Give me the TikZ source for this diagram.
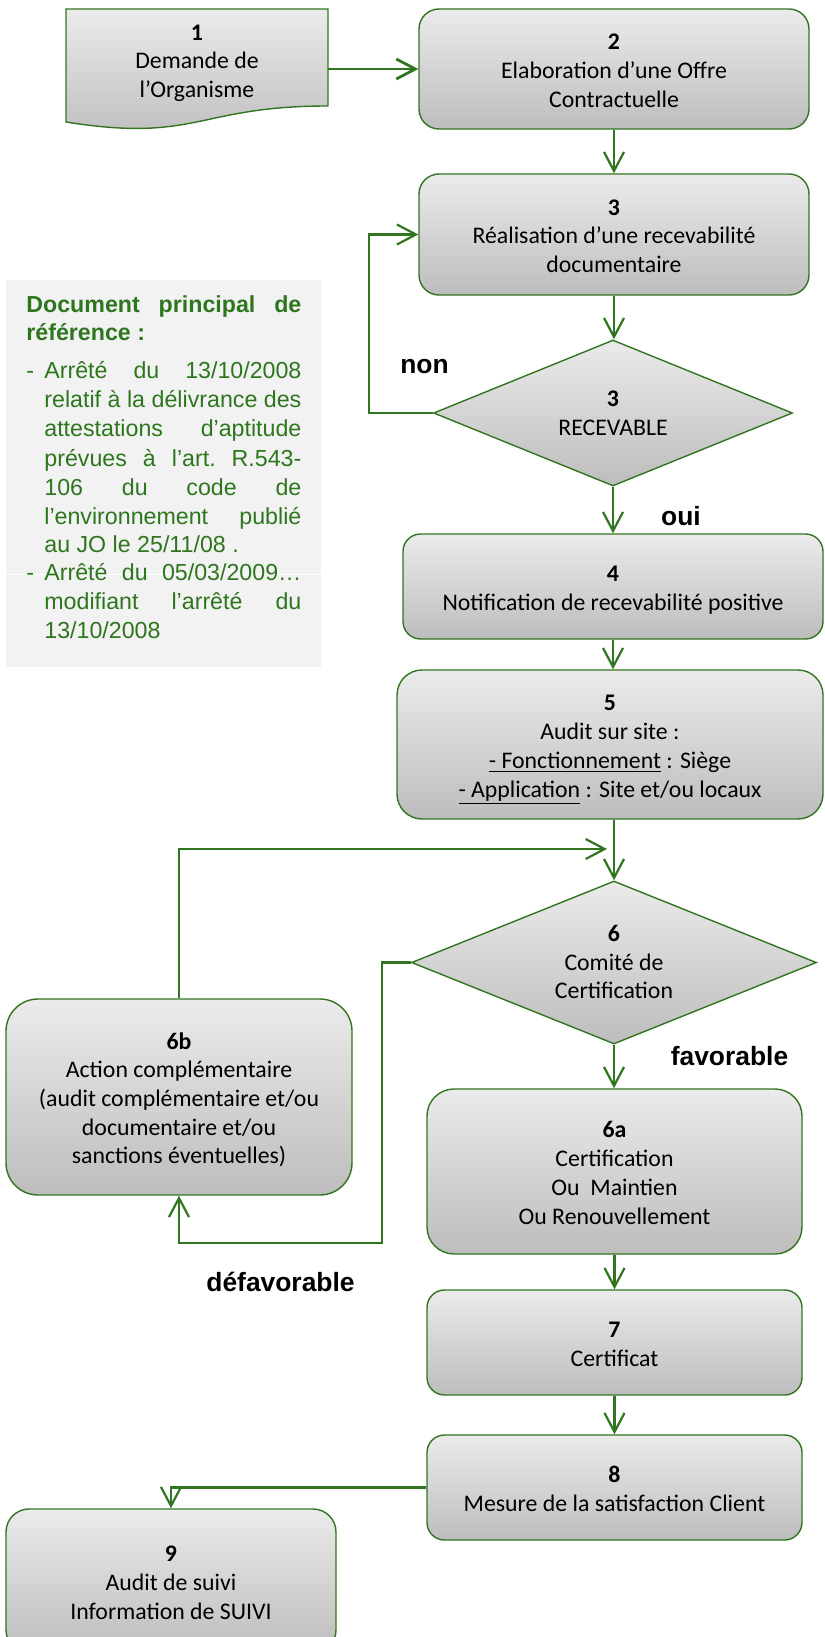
\documentclass[tikz,border=0pt]{standalone}
\usepackage{fontspec}
\setmainfont{Carlito}
\newfontfamily\labfont{Liberation Sans}
\newfontfamily\reffont{Liberation Sans}
\usetikzlibrary{arrows.meta,shapes.geometric,calc}
\definecolor{lg}{RGB}{50,117,32}
\definecolor{rg}{RGB}{46,118,30}
\definecolor{gtop}{RGB}{235,235,235}
\definecolor{gbot}{RGB}{189,189,189}
\definecolor{refbg}{RGB}{242,242,242}
\newcommand\bx[2]{\rule{0pt}{13.8pt}\textbf{#1}\\#2\strut}
\newcommand\dx[2]{\rule{0pt}{12pt}\textbf{#1}\\#2\strut}
\tikzset{
  boxtext/.style={align=center, inner sep=0pt, font=\fontsize{11.9}{14.35}\selectfont},
  box/.style={boxtext, draw=lg, line width=0.7pt, top color=gtop, bottom color=gbot},
  dia/.style={diamond, aspect=2.46, draw=lg, line width=0.7pt, top color=gtop, bottom color=gbot, align=center, inner sep=0pt, font=\fontsize{11.9}{14.35}\selectfont},
  conn/.style={draw=lg, line width=1.1pt, -{Straight Barb[length=9.5pt,width=10pt]}},
  lab/.style={font=\labfont\bfseries\fontsize{13.2}{15}\selectfont, inner sep=0pt},
  refl/.style={anchor=base west, inner sep=0pt, text=rg, font=\reffont\fontsize{11.6}{14}\selectfont},
}
\begin{document}
\begin{tikzpicture}[x=0.5pt,y=-0.5pt]
\useasboundingbox (0,0) rectangle (824,1637);

% reference block
\node[fill=refbg, minimum width=157.5pt, minimum height=193.5pt, inner sep=0pt] (refbox) at (163.5,473.5) {};
\draw[white, line width=0.5pt] (refbox.west |- 0,574) -- (refbox.east |- 0,574);
\node[refl] (h1) at (26,312) {\hbox to 137.5pt{\bfseries Document\hfill principal\hfill de}};
\node[refl] (h2) at (26,340) {\bfseries référence :};
\node[refl] (d1) at (26,378) {-};
\node[refl] (r1) at (44,378) {\hbox to 128.5pt{Arrêté\hfill du\hfill 13/10/2008}};
\node[refl] (r2) at (44,407) {\hbox to 128.5pt{relatif à la délivrance des}};
\node[refl] (r3) at (44,436) {\hbox to 128.5pt{attestations\hfill d’aptitude}};
\node[refl] (r4) at (44,466) {\hbox to 128.5pt{prévues\hfill à\hfill l’art.\hfill R.543-}};
\node[refl] (r5) at (44,495) {\hbox to 128.5pt{106\hfill du\hfill code\hfill de}};
\node[refl] (r6) at (44,524) {\hbox to 128.5pt{l’environnement\hfill publié}};
\node[refl] (r7) at (44,552) {au JO le 25/11/08 .};
\node[refl] (d2) at (26,580) {-};
\node[refl] (r8) at (44,580) {\hbox to 128.5pt{Arrêté\hfill du\hfill 05/03/2009…}};
\node[refl] (r9) at (44,609) {\hbox to 128.5pt{modifiant\hfill l’arrêté\hfill du}};
\node[refl] (r10) at (44,638) {13/10/2008};

% box 1 (document shape)
\draw[lg, line width=0.7pt, top color=gtop, bottom color=gbot] (66,9) -- (328,9) -- (328,106) .. controls (197,106) and (197,143) .. (66,122) -- cycle;
\node[boxtext] (b1) at (197,59.5) {\bx{1}{Demande de\\l’Organisme}};
\coordinate (b1r) at (328,69);

\node[box, minimum width=195pt, minimum height=60pt, rounded corners=10pt] (b2) at (614,69) {\bx{2}{Elaboration d’une Offre\\Contractuelle}};
\node[box, minimum width=195pt, minimum height=60.5pt, rounded corners=10pt] (b3) at (614,234.5) {\bx{3}{Réalisation d’une recevabilité\\documentaire}};
\node[dia, minimum width=179.5pt, minimum height=73pt] (d3) at (613,413) {\dx{3}{RECEVABLE}};
\node[box, minimum width=210pt, minimum height=52.5pt, rounded corners=8.75pt] (b4) at (613,586.5) {\bx{4}{Notification de recevabilité positive}};
\node[box, minimum width=213pt, minimum height=74.5pt, rounded corners=12.5pt] (b5) at (610,744.5) {\bx{5}{Audit sur site :\\\underline{- Fonctionnement} : Siège\\\underline{- Application} : Site et/ou locaux}};
\node[dia, minimum width=202.5pt, minimum height=81.5pt] (d6) at (614,962.5) {\dx{6}{Comité de\\Certification}};
\node[box, minimum width=173pt, minimum height=98pt, rounded corners=16pt] (b6b) at (179,1097) {\bx{6b}{Action complémentaire\\(audit complémentaire et/ou\\documentaire et/ou\\sanctions éventuelles)}};
\node[box, minimum width=187.5pt, minimum height=82.5pt, rounded corners=13.5pt] (b6a) at (614.5,1171.5) {\bx{6a}{Certification\\Ou\ \ Maintien\\Ou Renouvellement}};
\node[box, minimum width=187.5pt, minimum height=52.5pt, rounded corners=8.75pt] (b7) at (614.5,1342.5) {\bx{7}{Certificat}};
\node[box, minimum width=187.5pt, minimum height=52.5pt, rounded corners=8.75pt] (b8) at (614.5,1487.5) {\bx{8}{Mesure de la satisfaction Client}};
\node[box, minimum width=165pt, minimum height=72pt, rounded corners=11.5pt] (b9) at (171,1581) {\bx{9}{Audit de suivi\\Information de SUIVI}};

% labels
\node[lab] (lnon) at (424.5,367) {non};
\node[lab] (loui) at (681,516) {oui};
\node[lab] (lfav) at (729.5,1056) {favorable};
\node[lab] (ldef) at (280.5,1282) {défavorable};

% connectors
\draw[conn, line width=1.4pt] (b1r) -- (b2.west);
\draw[conn] (b2.south) -- (b3.north);
\draw[conn] (b3.south) -- (b3.south |- d3.north);
\draw[conn] (d3.west) -- ++(-64,0) |- (b3.west);
\draw[conn] (d3.south) -- (b4.north);
\draw[conn] (b4.south) -- (b4.south |- b5.north);
\draw[conn] (b5.south -| d6.north) -- (d6.north);
\coordinate (j6) at (607,849);
\draw[conn] (b6b.north) |- (j6);
\coordinate (k6) at (382,1243);
\draw[conn] (d6.west) -| (k6) -| (b6b.south);
\draw[conn] (d6.south) -- (d6.south |- b6a.north);
\draw[conn] (b6a.south) -- (b7.north);
\draw[conn] (b7.south) -- (b8.north);
\draw[conn] (b8.west) -| (b9.north);
\end{tikzpicture}
\end{document}
